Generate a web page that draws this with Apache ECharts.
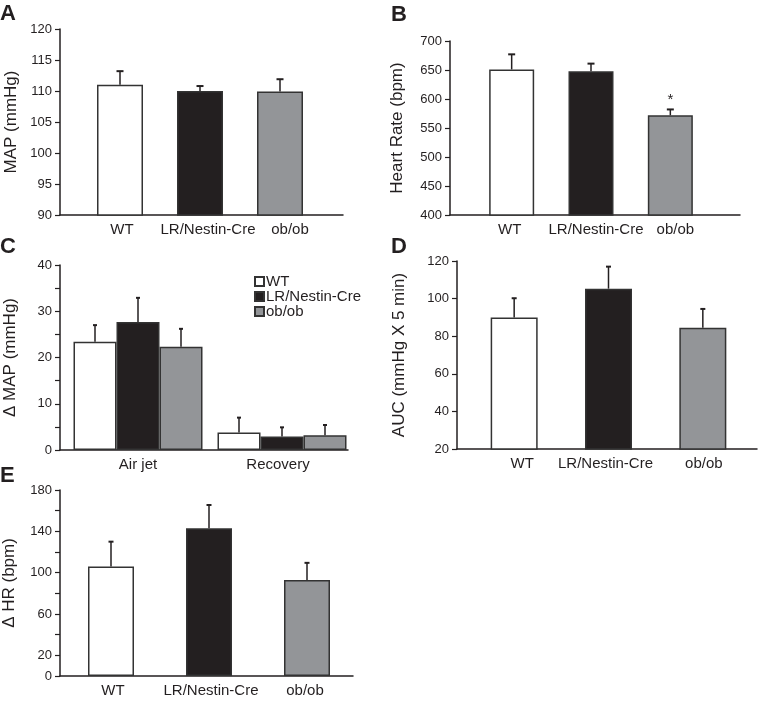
<!DOCTYPE html>
<html><head><meta charset="utf-8">
<script src="https://cdn.jsdelivr.net/npm/echarts@6/dist/echarts.min.js"></script>
<style>html,body{margin:0;padding:0;background:#fff}#c{width:758px;height:706px}</style>
</head><body><div id="c"></div>
<script>
// ---------- data ----------
const groups = ['WT', 'LR/Nestin-Cre', 'ob/ob'];
const phases = ['Air jet', 'Recovery'];

// A: MAP (mmHg)
const mapMean = [111.0, 110.0, 109.9];
const mapSem = [2.2, 0.8, 2.0];
const mapTicks = [90, 95, 100, 105, 110, 115, 120];

// B: Heart rate (bpm)
const hrMean = [651, 648, 572];
const hrSem = [26, 13, 10];
const hrSig = ['', '', '*'];
const hrTicks = [400, 450, 500, 550, 600, 650, 700];

// C: delta MAP (mmHg) by phase
const dMapWT = [23.4, 3.8];
const dMapWTSem = [3.6, 3.2];
const dMapLR = [27.7, 2.9];
const dMapLRSem = [5.2, 2.0];
const dMapOb = [22.3, 3.2];
const dMapObSem = [3.9, 2.2];
const dMapTicks = [0, 10, 20, 30, 40];

// D: AUC (mmHg x 5 min)
const aucMean = [90.0, 105.3, 84.5];
const aucSem = [10.2, 11.7, 10.0];
const aucTicks = [20, 40, 60, 80, 100, 120];

// E: delta HR (bpm)
const dHrMean = [106, 143, 93];
const dHrSem = [24, 22.5, 16.5];
const dHrTicks = [0, 20, 60, 100, 140, 180];

// ---------- style ----------
const FONT = '"Liberation Sans", Arial, Helvetica, sans-serif';
const INK = '#231f20';
const fills = ['#ffffff', '#231f20', '#939598'];
const BORDER = '#333333';

const grids = [], xAxes = [], yAxes = [], series = [];

function errRender(offset, cap, marks) {
  return function (params, api) {
    const i = api.value(0), v = api.value(1), e = api.value(2);
    const base = api.coord([i, v]);
    const top = api.coord([i, v + e]);
    const x = base[0] + offset;
    const children = [
      {type: 'line', shape: {x1: x, y1: base[1], x2: x, y2: top[1]}, style: {stroke: INK, lineWidth: 1.5}},
      {type: 'line', shape: {x1: x - cap / 2, y1: top[1], x2: x + cap / 2, y2: top[1]}, style: {stroke: INK, lineWidth: 2}}
    ];
    if (marks && marks[params.dataIndex]) {
      children.push({type: 'text', style: {text: marks[params.dataIndex], x: x, y: top[1] - 2,
        align: 'center', verticalAlign: 'bottom', fontSize: 15, fill: INK, fontFamily: FONT}});
    }
    return {type: 'group', children: children};
  };
}

function addPanel(p) {
  const ticks = p.ticks;
  const min = ticks[0], max = ticks[ticks.length - 1];
  // frame grid: axis lines, y ticks, y labels, y name
  const g1 = grids.length;
  grids.push({left: p.frame[0], top: p.frame[1], width: p.frame[2], height: p.frame[3]});
  xAxes.push({gridIndex: g1, type: 'value', min: 0, max: 1,
    axisLine: {show: true, onZero: false, lineStyle: {color: INK, width: 1.5}},
    axisTick: {show: false}, axisLabel: {show: false}, splitLine: {show: false}});
  yAxes.push({gridIndex: g1, type: 'value', min: min, max: max, interval: p.interval,
    axisLine: {show: true, onZero: false, lineStyle: {color: INK, width: 1.5}},
    axisTick: {show: true, length: 5, lineStyle: {color: INK, width: 1.2}},
    minorTick: {show: !!p.minor, splitNumber: p.minor || 5, length: 5, lineStyle: {color: INK, width: 1.2}},
    splitLine: {show: false},
    axisLabel: {fontSize: 13, color: INK, fontFamily: FONT, margin: 8,
      formatter: function (v) { return ticks.indexOf(v) >= 0 ? String(v) : ''; }},
    name: p.yName, nameLocation: 'middle', nameGap: p.nameGap,
    nameTextStyle: {fontSize: p.nameSize, color: INK, fontFamily: FONT}});
  // bar grid: categories and bars
  const g2 = grids.length;
  grids.push({left: p.bars[0], top: p.frame[1], width: p.bars[1], height: p.frame[3]});
  const shift = p.labelShift || [];
  xAxes.push({gridIndex: g2, type: 'category',
    data: p.cats.map(function (c, i) {
      const s = shift[i] || 0;
      return s ? {value: c, textStyle: {padding: s > 0 ? [0, 0, 0, 2 * s] : [0, -2 * s, 0, 0]}} : c;
    }),
    axisLine: {show: false}, axisTick: {show: false},
    axisLabel: {interval: 0, fontSize: 15, color: INK, fontFamily: FONT, margin: 7}});
  yAxes.push({gridIndex: g2, type: 'value', min: min, max: max, show: false});
  const xi = xAxes.length - 1, yi = yAxes.length - 1;
  p.series.forEach(function (s, k) {
    const n = p.series.length;
    series.push({type: 'bar', name: s.name, xAxisIndex: xi, yAxisIndex: yi,
      barWidth: p.barWidth, barGap: '0%', clip: true,
      itemStyle: {color: s.color || '#fff', borderColor: BORDER, borderWidth: 1.5},
      data: s.values.map(function (v, i) {
        return s.color ? v : {value: v, itemStyle: {color: fills[i]}};
      })});
    const offset = (k - (n - 1) / 2) * p.barWidth;
    series.push({type: 'custom', xAxisIndex: xi, yAxisIndex: yi, z: 3,
      encode: {x: 0, y: 1},
      renderItem: errRender(offset, p.cap, s.marks),
      data: s.values.map(function (v, i) { return [i, v, s.sems[i]]; })});
  });
}

addPanel({frame: [60, 29, 283, 186], bars: [80, 240], ticks: mapTicks, interval: 5,
  yName: 'MAP (mmHg)', nameGap: 40, nameSize: 17, cats: groups, barWidth: 46, cap: 7,
  labelShift: [2, 8, 10],
  series: [{values: mapMean, sems: mapSem}]});
addPanel({frame: [450, 41, 290, 174], bars: [472, 238], ticks: hrTicks, interval: 50,
  yName: 'Heart Rate (bpm)', nameGap: 44, nameSize: 17, cats: groups, barWidth: 45, cap: 7,
  labelShift: [-2, 5, 5],
  series: [{values: hrMean, sems: hrSem, marks: hrSig}]});
addPanel({frame: [60, 265, 288, 185], bars: [66, 288], ticks: dMapTicks, interval: 10, minor: 2,
  yName: '\u0394 MAP (mmHg)', nameGap: 41, nameSize: 17, cats: phases, barWidth: 43, cap: 4,
  labelShift: [0, -4],
  series: [
    {name: groups[0], values: dMapWT, sems: dMapWTSem, color: fills[0]},
    {name: groups[1], values: dMapLR, sems: dMapLRSem, color: fills[1]},
    {name: groups[2], values: dMapOb, sems: dMapObSem, color: fills[2]}
  ]});
addPanel({frame: [457, 261, 300, 188], bars: [467, 283], ticks: aucTicks, interval: 20,
  yName: 'AUC (mmHg X 5 min)', nameGap: 49, nameSize: 17, cats: groups, barWidth: 47, cap: 5,
  labelShift: [8, -3, 1],
  series: [{values: aucMean, sems: aucSem}]});
addPanel({frame: [58, 490, 295, 186], bars: [62, 294], ticks: dHrTicks, interval: 20,
  yName: '\u0394 HR (bpm)', nameGap: 42, nameSize: 17, cats: groups, barWidth: 46, cap: 5,
  labelShift: [2, 2, -2],
  series: [{values: dHrMean, sems: dHrSem}]});

const letter = function (t, l, tp) {
  return {text: t, left: l, top: tp, padding: 0,
    textStyle: {fontSize: 22, fontWeight: 'bold', color: INK, fontFamily: FONT}};
};

const chart = echarts.init(document.getElementById('c'), null, {renderer: 'canvas'});
chart.setOption({
  animation: false,
  backgroundColor: '#ffffff',
  title: [letter('A', 0, 3), letter('B', 391, 4), letter('C', 0, 236), letter('D', 391, 236), letter('E', 0, 465)],
  legend: {data: groups, orient: 'vertical', left: 254, top: 274, padding: 0,
    itemWidth: 9, itemHeight: 9, itemGap: 0,
    selectedMode: false, icon: 'rect',
    textStyle: {fontSize: 15, color: INK, fontFamily: FONT, padding: [0, 0, 0, -3]}},
  grid: grids, xAxis: xAxes, yAxis: yAxes, series: series
});
</script></body></html>
